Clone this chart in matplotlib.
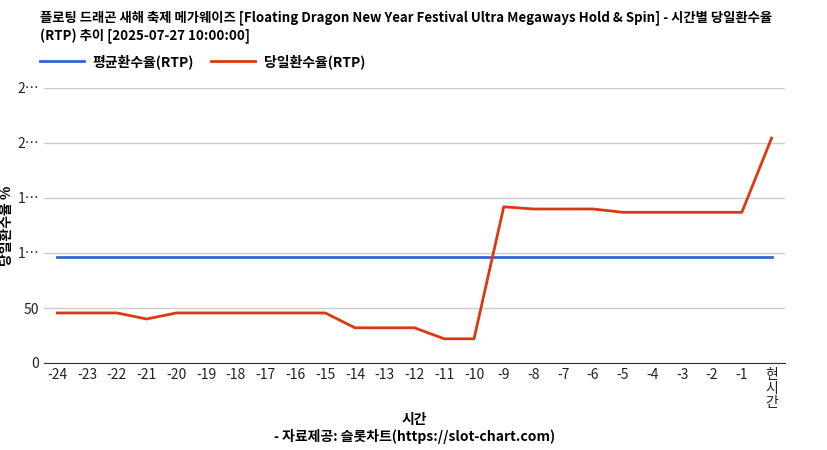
import matplotlib
matplotlib.use("Agg")
import matplotlib.pyplot as plt

plt.rcParams["font.family"] = "Noto Sans CJK KR"

labels = [str(i) for i in range(-24, 0)] + ["현\n시\n간"]
avg_rtp = [96.4] * 25
daily_rtp = [45.5, 45.5, 45.5, 40, 45.5, 45.5, 45.5, 45.5, 45.5, 45.5,
             32, 32, 32, 22, 22, 142, 140, 140, 140, 137, 137, 137, 137, 137, 204.5]
yticks = [0, 50, 100, 150, 200, 250]
ytick_labels = ["0", "50", "1…", "1…", "2…", "2…"]

fig = plt.figure(figsize=(8.28, 4.5), dpi=100)
ax = fig.add_axes([44/828, 1-363/450, (785-44)/828, (363-88)/450])
x = list(range(len(labels)))
ax.plot(x, avg_rtp, color="#3366cc", lw=2, label="평균환수율(RTP)")
ax.plot(x, daily_rtp, color="#dc3912", lw=2, label="당일환수율(RTP)")
ax.set_xlim(-0.45, len(labels) - 0.55)
ax.set_ylim(0, 250)
ax.set_yticks(yticks)
ax.set_yticklabels(ytick_labels)
ax.set_xticks(x)
ax.set_xticklabels(labels, linespacing=1.0)
ax.grid(axis="y", color="#cccccc", lw=1)
ax.tick_params(length=0, labelsize=10, colors="#222222")
for s in ["top", "right", "left"]:
    ax.spines[s].set_visible(False)
ax.spines["bottom"].set_color("#333333")
ax.set_ylabel("당일환수율 %", fontsize=10, fontweight="bold", labelpad=2)
ax.yaxis.set_label_coords(-30/741, 0.5)
ax.set_xlabel("시간\n- 자료제공: 슬롯차트(https://slot-chart.com)", fontsize=10, fontweight="bold", labelpad=2, linespacing=1.2)
fig.text(40/828, 1-27/450, "플로팅 드래곤 새해 축제 메가웨이즈 [Floating Dragon New Year Festival Ultra Megaways Hold & Spin] - 시간별 당일환수율\n(RTP) 추이 [2025-07-27 10:00:00]",
         fontsize=9.6, fontweight="bold", va="center", ha="left", linespacing=1.35)
fig.legend(loc="upper left", bbox_to_anchor=(40/828, 1-54/450), ncol=2, frameon=False,
           prop={"weight": "bold", "size": 10}, handlelength=3.2, handletextpad=0.6, columnspacing=1.2,
           borderaxespad=0, borderpad=0)
fig.savefig("out.png", dpi=100)
